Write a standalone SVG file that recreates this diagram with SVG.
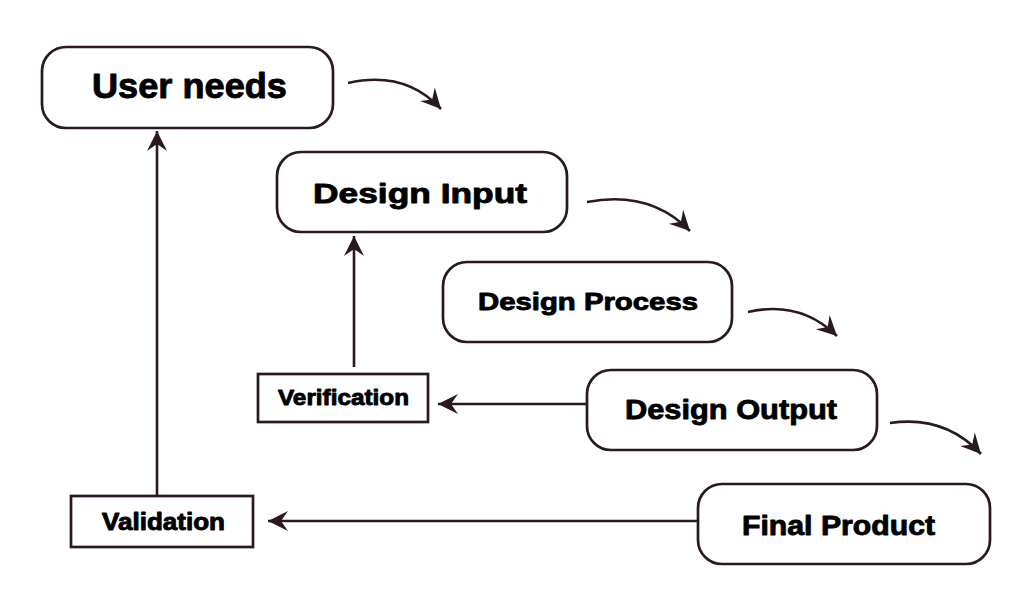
<svg xmlns="http://www.w3.org/2000/svg" width="1024" height="591" viewBox="0 0 1024 591">
<style>
.box{fill:#fff;stroke:#2a1a1f;stroke-width:2.7}
.lbl{font-family:"Liberation Sans",Arial,sans-serif;font-weight:bold;fill:#000;stroke:#000;stroke-width:0.9;stroke-linejoin:round}
.con{fill:none;stroke:#2a1a1f;stroke-width:2.6}
</style>
<defs>
<marker id="ah" viewBox="-22 -11 24 22" refX="0" refY="0" markerWidth="24" markerHeight="22" markerUnits="userSpaceOnUse" orient="auto">
<path d="M0,0 L-20,-10 L-13,0 L-20,10 Z" fill="#2a1a1f"/>
</marker>
</defs>
<rect width="1024" height="591" fill="#fff"/>
<g id="connectors">
<path class="con" d="M157,496 V131" marker-end="url(#ah)"/>
<path class="con" d="M354,367 V236" marker-end="url(#ah)"/>
<path class="con" d="M587,404 H438" marker-end="url(#ah)"/>
<path class="con" d="M698,521 H268" marker-end="url(#ah)"/>
<path class="con" d="M348,83 Q405,70 441,109" marker-end="url(#ah)"/>
<path class="con" d="M587,202 Q650,190 690,231" marker-end="url(#ah)"/>
<path class="con" d="M748,312 Q800,300 837,336" marker-end="url(#ah)"/>
<path class="con" d="M890,423 Q945,415 981,454" marker-end="url(#ah)"/>
</g>
<g id="user-needs">
<rect class="box" x="42" y="47" width="291" height="81" rx="24"/>
<text class="lbl" x="92" y="98" font-size="35" textLength="195" lengthAdjust="spacingAndGlyphs">User needs</text>
</g>
<g id="design-input">
<rect class="box" x="277" y="152" width="290" height="80" rx="24"/>
<text class="lbl" x="313" y="203" font-size="28" textLength="214" lengthAdjust="spacingAndGlyphs">Design Input</text>
</g>
<g id="design-process">
<rect class="box" x="443" y="262" width="289" height="80" rx="24"/>
<text class="lbl" x="478" y="310" font-size="24" textLength="220" lengthAdjust="spacingAndGlyphs">Design Process</text>
</g>
<g id="design-output">
<rect class="box" x="587" y="370" width="290" height="80" rx="24"/>
<text class="lbl" x="625" y="419" font-size="28" textLength="212" lengthAdjust="spacingAndGlyphs">Design Output</text>
</g>
<g id="final-product">
<rect class="box" x="698" y="484" width="292" height="80" rx="24"/>
<text class="lbl" x="742" y="535" font-size="28" textLength="193" lengthAdjust="spacingAndGlyphs">Final Product</text>
</g>
<g id="verification">
<rect class="box" x="258" y="374" width="170" height="48"/>
<text class="lbl" x="278" y="405" font-size="22" textLength="131" lengthAdjust="spacingAndGlyphs">Verification</text>
</g>
<g id="validation">
<rect class="box" x="71" y="496" width="182" height="51"/>
<text class="lbl" x="102" y="530" font-size="23" textLength="123" lengthAdjust="spacingAndGlyphs">Validation</text>
</g>
</svg>
